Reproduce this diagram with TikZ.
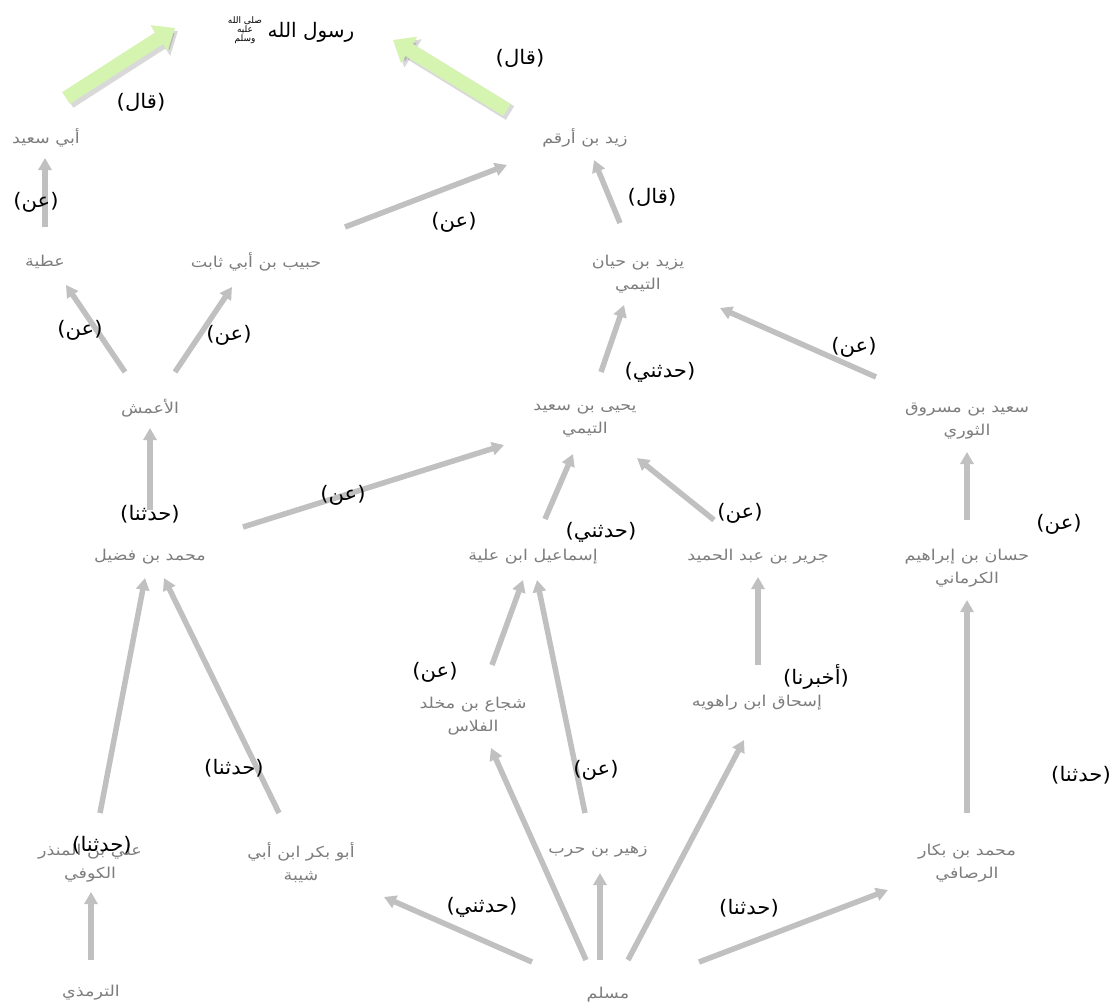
\documentclass[tikz,border=0pt]{standalone}
\usepackage{fontspec}
\usetikzlibrary{arrows.meta,calc}
\TeXXeTstate=1
\newfontfamily\arabicfont[Script=Arabic]{DejaVu Sans}
\newfontfamily\nodefont[Script=Arabic,FakeStretch=1.17]{DejaVu Sans}
\newfontfamily\lblfont[Script=Arabic,FakeStretch=1.06]{DejaVu Sans}
\newcommand{\ar}[1]{{\beginR #1\endR}}
\definecolor{nodegray}{RGB}{125,125,125}
\definecolor{arrowgray}{RGB}{192,192,192}
\definecolor{lightgreen}{RGB}{212,244,176}
\tikzset{
  nm/.style={text=nodegray, font=\nodefont\fontsize{15}{23}\selectfont, align=center, inner sep=0pt},
  lbl/.style={text=black, font=\lblfont\fontsize{20}{22}\selectfont, inner sep=0pt},
  ttl/.style={text=black, font=\arabicfont\fontsize{20}{24}\selectfont, inner sep=0pt},
  sawstyle/.style={text=black, font=\arabicfont\fontsize{9}{9}\selectfont, align=center, inner sep=0pt},
  conn/.style={draw=arrowgray, line width=5.5pt, -{Triangle[length=12pt,width=13pt]}},
  fat/.style={draw=lightgreen, line width=14pt, -{Triangle[length=19pt,width=30pt]}},
  fatshadow/.style={draw=black, opacity=0.15, line width=16pt, -{Triangle[length=20pt,width=32pt]}}
}
\begin{document}
\begin{tikzpicture}[x=1pt,y=-1pt]
\useasboundingbox[fill=white] (0,0) rectangle (1116,1005);
% nodes
\node[ttl] (title) at (311,32) {\ar{رسول الله}};
\node[sawstyle] (saw) at (245,30) {\ar{صلى الله}\\\ar{عليه}\\\ar{وسلم}};
\node[nm] (abusaid) at (46,138) {\ar{أبي سعيد}};
\node[nm] (zaid) at (585,138) {\ar{زيد بن أرقم}};
\node[nm] (atiya) at (45,262) {\ar{عطية}};
\node[nm] (habib) at (256,262) {\ar{حبيب بن أبي ثابت}};
\node[nm] (yazid) at (638,274) {\ar{يزيد بن حيان}\\\ar{التيمي}};
\node[nm] (amash) at (150,408) {\ar{الأعمش}};
\node[nm] (yahya) at (585,421) {\ar{يحيى بن سعيد}\\\ar{التيمي}};
\node[nm] (saidm) at (967,421) {\ar{سعيد بن مسروق}\\\ar{الثوري}};
\node[nm] (fudail) at (150,557) {\ar{محمد بن فضيل}};
\node[nm] (ismail) at (533,557) {\ar{إسماعيل ابن علية}};
\node[nm] (jarir) at (758,557) {\ar{جرير بن عبد الحميد}};
\node[nm] (hassan) at (967,568) {\ar{حسان بن إبراهيم}\\\ar{الكرماني}};
\node[nm] (shuja) at (473,716) {\ar{شجاع بن مخلد}\\\ar{الفلاس}};
\node[nm] (ishaq) at (757,703) {\ar{إسحاق ابن راهويه}};
\node[nm] (ali) at (90,863) {\ar{علي بن المنذر}\\\ar{الكوفي}};
\node[nm] (abubakr) at (301,863) {\ar{أبو بكر ابن أبي}\\\ar{شيبة}};
\node[nm] (zuhair) at (598,852) {\ar{زهير بن حرب}};
\node[nm] (bakkar) at (967,863) {\ar{محمد بن بكار}\\\ar{الرصافي}};
\node[nm] (tirmidhi) at (91,993) {\ar{الترمذي}};
\node[nm] (muslim) at (608,995) {\ar{مسلم}};
% green arrows
\draw[fatshadow] ($(abusaid)+(23,-37)$) -- ($(title)+(-133,-1)$);
\draw[fat] ($(abusaid)+(20,-40)$) -- ($(title)+(-136,-4)$);
\draw[fatshadow] ($(zaid)+(-75,-25)$) -- ($(title)+(85,11)$);
\draw[fat] ($(zaid)+(-78,-28)$) -- ($(title)+(82,8)$);
% gray arrows
\draw[conn] ($(atiya)+(0,-35)$) -- ($(abusaid)+(-1,20)$);
\draw[conn] ($(habib)+(89,-35)$) -- ($(zaid)+(-78,27)$);
\draw[conn] ($(yazid)+(-18,-51)$) -- ($(zaid)+(9,22)$);
\draw[conn] ($(amash)+(-25,-36)$) -- ($(atiya)+(21,23)$);
\draw[conn] ($(amash)+(25,-36)$) -- ($(habib)+(-24,25)$);
\draw[conn] ($(yahya)+(16,-49)$) -- ($(yazid)+(-14,31)$);
\draw[conn] ($(saidm)+(-91,-44)$) -- ($(yazid)+(82,34)$);
\draw[conn] ($(fudail)+(0,-47)$) -- ($(amash)+(0,20)$);
\draw[conn] ($(fudail)+(93,-30)$) -- ($(yahya)+(-81,24)$);
\draw[conn] ($(ismail)+(12,-38)$) -- ($(yahya)+(-12,33)$);
\draw[conn] ($(jarir)+(-44,-37)$) -- ($(yahya)+(52,37)$);
\draw[conn] ($(hassan)+(0,-48)$) -- ($(saidm)+(0,31)$);
\draw[conn] ($(shuja)+(19,-51)$) -- ($(ismail)+(-10,23)$);
\draw[conn] ($(zuhair)+(-13,-39)$) -- ($(ismail)+(4,23)$);
\draw[conn] ($(ishaq)+(1,-38)$) -- ($(jarir)+(0,20)$);
\draw[conn] ($(bakkar)+(0,-50)$) -- ($(hassan)+(0,32)$);
\draw[conn] ($(ali)+(10,-50)$) -- ($(fudail)+(-5,21)$);
\draw[conn] ($(abubakr)+(-22,-50)$) -- ($(fudail)+(14,21)$);
\draw[conn] ($(muslim)+(-76,-33)$) -- ($(abubakr)+(83,34)$);
\draw[conn] ($(muslim)+(-22,-35)$) -- ($(shuja)+(18,32)$);
\draw[conn] ($(muslim)+(-8,-35)$) -- ($(zuhair)+(2,21)$);
\draw[conn] ($(muslim)+(20,-35)$) -- ($(ishaq)+(-13,37)$);
\draw[conn] ($(muslim)+(91,-33)$) -- ($(bakkar)+(-79,27)$);
\draw[conn] ($(tirmidhi)+(0,-33)$) -- ($(ali)+(1,29)$);
% labels
\node[lbl] (l1) at (141,102) {\ar{(قال)}};
\node[lbl] (l2) at (520,58) {\ar{(قال)}};
\node[lbl] (l3) at (36,202) {\ar{(عن)}};
\node[lbl] (l4) at (652,197) {\ar{(قال)}};
\node[lbl] (l5) at (454,222) {\ar{(عن)}};
\node[lbl] (l6) at (80,330) {\ar{(عن)}};
\node[lbl] (l7) at (229,335) {\ar{(عن)}};
\node[lbl] (l8) at (660,372) {\ar{(حدثني)}};
\node[lbl] (l9) at (854,347) {\ar{(عن)}};
\node[lbl] (l10) at (150,514) {\ar{(حدثنا)}};
\node[lbl] (l11) at (343,495) {\ar{(عن)}};
\node[lbl] (l12) at (601,532) {\ar{(حدثني)}};
\node[lbl] (l13) at (740,513) {\ar{(عن)}};
\node[lbl] (l14) at (1059,524) {\ar{(عن)}};
\node[lbl] (l15) at (435,672) {\ar{(عن)}};
\node[lbl] (l16) at (816,677) {\ar{(أخبرنا)}};
\node[lbl] (l17) at (234,768) {\ar{(حدثنا)}};
\node[lbl] (l18) at (596,770) {\ar{(عن)}};
\node[lbl] (l19) at (1081,775) {\ar{(حدثنا)}};
\node[lbl] (l20) at (102,845) {\ar{(حدثنا)}};
\node[lbl] (l21) at (482,907) {\ar{(حدثني)}};
\node[lbl] (l22) at (749,908) {\ar{(حدثنا)}};
\end{tikzpicture}
\end{document}
